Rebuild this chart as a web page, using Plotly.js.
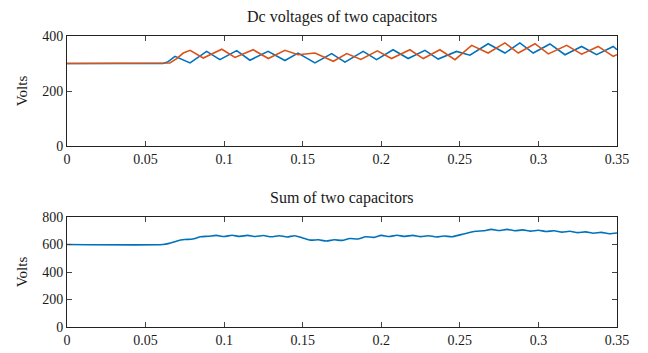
<!DOCTYPE html>
<html><head><meta charset="utf-8">
<script src="https://cdn.plot.ly/plotly-3.0.1.min.js"></script>
<style>html,body{margin:0;padding:0;background:#fff}#chart{width:648px;height:353px}</style>
</head><body><div id="chart"></div>
<script>
const xTicks = [0, 0.05, 0.1, 0.15, 0.2, 0.25, 0.3, 0.35];
const xTickLabels = ["0", "0.05", "0.1", "0.15", "0.2", "0.25", "0.3", "0.35"];
const topTitle = "Dc voltages of two capacitors";
const bottomTitle = "Sum of two capacitors";
const yTitle = "Volts";

const tBlue = [0, 0.061, 0.064, 0.0687, 0.0783, 0.0889, 0.0973, 0.108, 0.1164, 0.128, 0.1387, 0.147, 0.1578, 0.1684, 0.1769, 0.1885, 0.197, 0.2075, 0.2171, 0.2278, 0.2362, 0.2479, 0.2564, 0.268, 0.2787, 0.2882, 0.2967, 0.3073, 0.3169, 0.3275, 0.337, 0.3476, 0.35];
const vBlue = [300, 300, 305, 326, 302, 344, 314, 347, 312, 344, 311, 338, 302, 336, 305, 344, 314, 350, 318, 348, 316, 344, 330, 372, 338, 375, 338, 371, 332, 362, 332, 362, 350];

const tOrange = [0, 0.061, 0.0655, 0.0698, 0.074, 0.0783, 0.0867, 0.0985, 0.1069, 0.1185, 0.1281, 0.1387, 0.147, 0.1578, 0.1695, 0.178, 0.187, 0.1975, 0.2065, 0.2182, 0.2267, 0.2373, 0.2469, 0.2575, 0.268, 0.2787, 0.2872, 0.2978, 0.3063, 0.318, 0.3275, 0.338, 0.3476, 0.35];
const vOrange = [300, 300, 302, 318, 338, 348, 320, 352, 322, 350, 318, 348, 332, 338, 308, 336, 315, 346, 318, 350, 318, 350, 314, 366, 338, 375, 338, 372, 335, 366, 334, 362, 326, 332];

const tSum = [0, 0.061, 0.065, 0.07, 0.075, 0.08, 0.085, 0.09, 0.095, 0.1, 0.105, 0.11, 0.115, 0.12, 0.125, 0.13, 0.135, 0.14, 0.145, 0.15, 0.155, 0.16, 0.165, 0.17, 0.175, 0.18, 0.185, 0.19, 0.195, 0.2, 0.205, 0.21, 0.215, 0.22, 0.225, 0.23, 0.235, 0.24, 0.245, 0.25, 0.255, 0.26, 0.265, 0.27, 0.275, 0.28, 0.285, 0.29, 0.295, 0.3, 0.305, 0.31, 0.315, 0.32, 0.325, 0.33, 0.335, 0.34, 0.345, 0.35];
const vSum = [600, 600, 608, 626, 636, 640, 656, 660, 666, 658, 667, 659, 666, 658, 665, 656, 664, 655, 664, 648, 632, 634, 625, 634, 630, 644, 640, 656, 652, 666, 658, 667, 659, 666, 657, 664, 655, 662, 656, 670, 684, 696, 700, 710, 702, 710, 700, 706, 697, 704, 694, 700, 690, 696, 686, 692, 682, 688, 678, 684];

const blue = "#0072BD", orange = "#D95319";
const fam = "Liberation Serif, DejaVu Serif, serif";
const tickFont = {family: fam, size: 14, color: "#1a1a1a"};
const titleFont = {family: fam, size: 16, color: "#1a1a1a"};
const yTitleFont = {family: fam, size: 15, color: "#1a1a1a"};

function xAxis(anchor) {
  return {range: [0, 0.35], tickvals: xTicks, ticktext: xTickLabels, ticks: "inside", ticklen: 5,
    showline: true, linecolor: "#222", linewidth: 1, mirror: "ticks", showgrid: false, zeroline: false,
    anchor: anchor, tickfont: tickFont};
}
function yAxis(anchor, domain, rng, vals) {
  return {range: rng, domain: domain, tickvals: vals, ticks: "inside", ticklen: 5,
    showline: true, linecolor: "#222", linewidth: 1, mirror: "ticks", showgrid: false, zeroline: false,
    anchor: anchor, tickfont: tickFont, title: {text: yTitle, font: yTitleFont, standoff: 10}};
}

const data = [
  {x: tBlue, y: vBlue, xaxis: "x", yaxis: "y", mode: "lines", line: {color: blue, width: 1.6}},
  {x: tOrange, y: vOrange, xaxis: "x", yaxis: "y", mode: "lines", line: {color: orange, width: 1.6}},
  {x: tSum, y: vSum, xaxis: "x2", yaxis: "y2", mode: "lines", line: {color: blue, width: 1.6, shape: "spline", smoothing: 0.6}}
];

const layout = {
  width: 648, height: 353, showlegend: false,
  paper_bgcolor: "#fff", plot_bgcolor: "#fff",
  margin: {l: 67, r: 31, t: 36, b: 26},
  font: tickFont,
  xaxis: xAxis("y"),
  yaxis: yAxis("x", [0.622, 1], [0, 400], [0, 200, 400]),
  xaxis2: xAxis("y2"),
  yaxis2: yAxis("x2", [0, 0.378], [0, 800], [0, 200, 400, 600, 800]),
  annotations: [
    {text: topTitle, xref: "paper", yref: "paper", x: 0.5, y: 1, yshift: 8, showarrow: false, yanchor: "bottom", font: titleFont},
    {text: bottomTitle, xref: "paper", yref: "paper", x: 0.5, y: 0.378, yshift: 8, showarrow: false, yanchor: "bottom", font: titleFont}
  ]
};
Plotly.newPlot("chart", data, layout, {staticPlot: true, displayModeBar: false});
</script>
</body></html>
